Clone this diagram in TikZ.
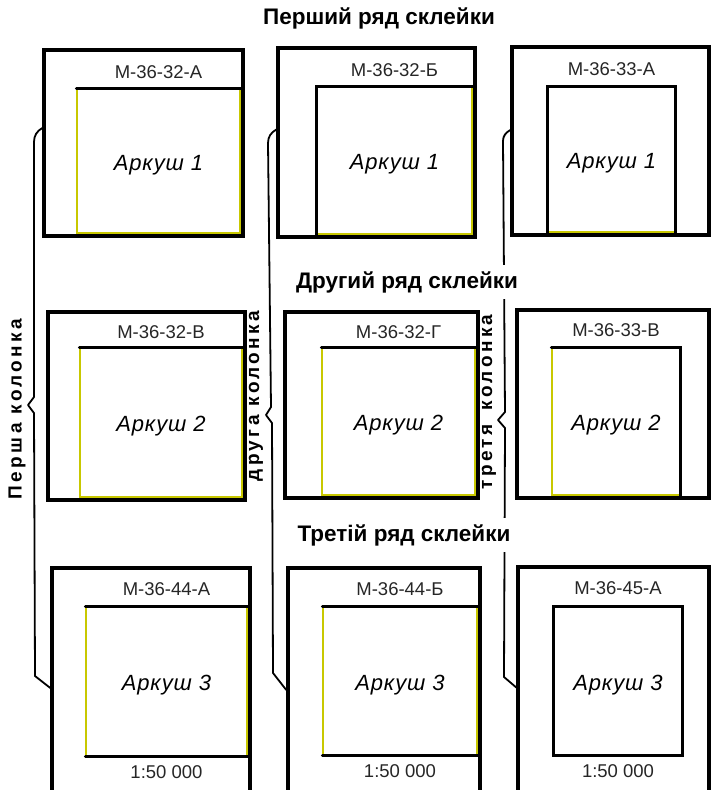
\documentclass[tikz,border=0pt]{standalone}
\usepackage{fontspec}
\setmainfont{Liberation Sans}
\newfontfamily\kolfont[LetterSpace=18]{Liberation Sans}
\newfontfamily\arkfont[LetterSpace=4]{Liberation Sans}
\usetikzlibrary{positioning,fit}
\definecolor{zhovta}{RGB}{200,200,0}

\begin{document}
\begin{tikzpicture}[x=1pt,y=-1pt,inner sep=0pt,
	lista/.style={rectangle,draw,line width=3.4pt,fill=white,inner sep=0pt},
	pole/.style={rectangle,draw=zhovta,line width=1.5pt,fill=white,inner sep=0pt},
	kraj/.style={line width=2.8pt,line cap=round},
	duzhka/.style={line width=1.8pt,line join=round},
	kod/.style={font=\fontsize{18.5}{20}\selectfont,text=black!85},
	ark/.style={font=\arkfont\itshape\fontsize{22}{24}\selectfont},
	ryad/.style={font=\bfseries\fontsize{22.5}{24}\selectfont,fill=white,inner sep=6pt},
	kolonka/.style={font=\kolfont\bfseries\fontsize{19}{21}\selectfont,rotate=90}]
	\useasboundingbox (0,0) rectangle (711,790);
%		sheets (outer frames)
		\node [lista,fit={(44,50) (243,236)}] (s11) [] {};
		\node [lista,fit={(278,48) (475,237)}] (s12) [] {};
		\node [lista,fit={(512,47) (709,235)}] (s13) [] {};
		\node [lista,fit={(48,312) (245,500)}] (s21) [] {};
		\node [lista,fit={(285,312) (478,498)}] (s22) [] {};
		\node [lista,fit={(517,310) (709,498)}] (s23) [] {};
		\node [lista,fit={(52,568) (250,796)}] (s31) [] {};
		\node [lista,fit={(288,568) (480,796)}] (s32) [] {};
		\node [lista,fit={(518,567) (709,796)}] (s33) [] {};
%		map fields
		\node [pole,fit={(77,89) (240,233)}] (s11i) [] {};
		\node [pole,fit={(317,87) (472,234)}] (s12i) [] {};
		\node [pole,fit={(548,87) (675,232)}] (s13i) [] {};
		\node [pole,fit={(80,348) (242,497)}] (s21i) [] {};
		\node [pole,fit={(322,348) (475,495)}] (s22i) [] {};
		\node [pole,fit={(552,348) (680,495)}] (s23i) [] {};
		\node [pole,fit={(86,607) (247,756)}] (s31i) [] {};
		\node [pole,fit={(323,607) (477,755)}] (s32i) [] {};
		\node [pole,fit={(554,607) (682,755)}] (s33i) [] {};
		\draw [kraj] (s11i.north west) -- (s11i.north east);
		\draw [kraj] (s12i.south west) -- (s12i.north west) -- (s12i.north east);
		\draw [kraj] (s13i.south west) -- (s13i.north west) -- (s13i.north east) -- (s13i.south east);
		\draw [kraj] (s21i.north west) -- (s21i.north east);
		\draw [kraj] (s22i.north west) -- (s22i.north east);
		\draw [kraj] (s23i.north west) -- (s23i.north east) -- (s23i.south east);
		\draw [kraj] (s31i.north west) -- (s31i.north east);
		\draw [kraj] (s31i.south west) -- (s31i.south east);
		\draw [kraj] (s32i.north west) -- (s32i.north east);
		\draw [kraj] (s32i.south west) -- (s32i.south east);
		\draw [kraj] (s33i.south west) -- (s33i.north west) -- (s33i.north east) -- (s33i.south east) -- cycle;
%		nomenclature
		\node [kod,anchor=north] (k11) at ([yshift=-17pt]s11i.north |- s11.north) {М-36-32-А};
		\node [kod,anchor=north] (k12) at ([yshift=-17pt]s12i.north |- s12.north) {М-36-32-Б};
		\node [kod,anchor=north] (k13) at ([yshift=-17pt]s13i.north |- s13.north) {М-36-33-А};
		\node [kod,anchor=north] (k21) at ([yshift=-15pt]s21i.north |- s21.north) {М-36-32-В};
		\node [kod,anchor=north] (k22) at ([yshift=-15pt]s22i.north |- s22.north) {М-36-32-Г};
		\node [kod,anchor=north] (k23) at ([yshift=-15pt]s23i.north |- s23.north) {М-36-33-В};
		\node [kod,anchor=north] (k31) at ([yshift=-16pt]s31i.north |- s31.north) {М-36-44-А};
		\node [kod,anchor=north] (k32) at ([yshift=-16pt]s32i.north |- s32.north) {М-36-44-Б};
		\node [kod,anchor=north] (k33) at ([yshift=-16pt]s33i.north |- s33.north) {М-36-45-А};
		\node [kod,below=9pt of s31i.south] (m31) {1:50 000};
		\node [kod,below=9pt of s32i.south] (m32) {1:50 000};
		\node [kod,below=9pt of s33i.south] (m33) {1:50 000};
		\node [ark] (a11) at ([yshift=-4pt]s11i.center) {Аркуш 1};
		\node [ark] (a12) at ([yshift=-4pt]s12i.center) {Аркуш 1};
		\node [ark] (a13) at ([yshift=-4pt]s13i.center) {Аркуш 1};
		\node [ark] (a21) at ([yshift=-4pt]s21i.center) {Аркуш 2};
		\node [ark] (a22) at ([yshift=-4pt]s22i.center) {Аркуш 2};
		\node [ark] (a23) at ([yshift=-4pt]s23i.center) {Аркуш 2};
		\node [ark] (a31) at ([yshift=-4pt]s31i.center) {Аркуш 3};
		\node [ark] (a32) at ([yshift=-4pt]s32i.center) {Аркуш 3};
		\node [ark] (a33) at ([yshift=-4pt]s33i.center) {Аркуш 3};
%		column braces
		\draw [duzhka] ([yshift=15pt]s11.west) to[out=210,in=90] (34,142) -- (34,397) -- (28,405) -- (34,413) -- (35,676) -- ([yshift=-6pt]s31.west);
		\draw [duzhka] ([yshift=13pt]s12.west) to[out=210,in=90] (268,143) -- (271,407) -- (266,415) -- (272,423) -- (273,673) -- ([yshift=-8pt]s32.west);
		\draw [duzhka] ([yshift=11pt]s13.west) to[out=210,in=90] (503,141) -- (505,412) -- (498,420) -- (505,428) -- (504,677) -- ([yshift=-6pt]s33.west);
%		rows and columns
		\node [ryad] (r1) at (379,18) {Перший ряд склейки};
		\node [ryad] (r2) at (407,282) {Другий ряд склейки};
		\node [ryad] (r3) at (404,535) {Третій ряд склейки};
		\node [kolonka] (c1) at (17,409) {Перша колонка};
		\node [kolonka] (c2) at (256,396) {друга колонка};
		\node [kolonka] (c3) at (489,402) {третя\hspace{14pt}колонка};
	\end{tikzpicture}
\end{document}
